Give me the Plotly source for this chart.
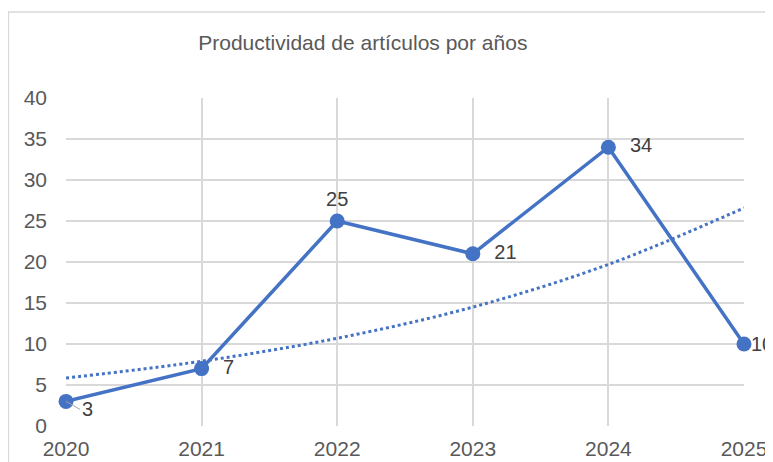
import plotly.graph_objects as go

years = [2020, 2021, 2022, 2023, 2024, 2025]
articulos = [3, 7, 25, 21, 34, 10]
# tendencia exponencial
tendencia = [5.85, 7.9, 10.7, 14.5, 19.7, 26.6]
y_ticks = [0, 5, 10, 15, 20, 25, 30, 35, 40]

blue = "#4472C4"
grid = "#D9D9D9"
txt = "#595959"
font_fam = "Liberation Sans, Arial, sans-serif"
lbl_font = dict(size=20, color="#404040", family=font_fam)

# etiquetas del medio en la traza; primera y última como anotaciones
label_pos = ["bottom right", "middle right", "top center",
             "middle right", "middle right", "middle right"]
labels = ["", "  7", "25", "  21", "  34", ""]

fig = go.Figure()

fig.add_trace(go.Scatter(
    x=years, y=tendencia, mode="lines",
    line=dict(color=blue, width=3, dash="dot", shape="spline"),
    hoverinfo="skip", showlegend=False,
))

fig.add_trace(go.Scatter(
    x=years, y=articulos, mode="lines+markers+text",
    text=labels,
    textposition=label_pos,
    textfont=lbl_font,
    line=dict(color=blue, width=3.5),
    marker=dict(color=blue, size=15),
    cliponaxis=False,
    showlegend=False,
))

# etiqueta "3" con línea guía
fig.add_annotation(
    x=years[0], y=articulos[0], text=str(articulos[0]),
    showarrow=True, arrowhead=0, arrowcolor="#A6A6A6", arrowwidth=1,
    ax=14, ay=8, xanchor="left", yanchor="middle",
    font=lbl_font,
)

# etiqueta "10" pegada al marcador (cortada en el borde como en Excel)
fig.add_annotation(
    x=years[-1], y=articulos[-1], text=str(articulos[-1]),
    showarrow=False, xanchor="left", yanchor="middle", xshift=5,
    font=lbl_font,
)

# borde del área del gráfico
fig.add_shape(
    type="rect", xref="paper", yref="paper",
    x0=-0.085, x1=1.2, y0=-0.3, y1=1.262,
    line=dict(color="#D9D9D9", width=1.5), layer="below",
)

fig.update_layout(
    width=773, height=462,
    margin=dict(l=58, r=37, t=90, b=44),
    paper_bgcolor="white", plot_bgcolor="white",
    font=dict(family=font_fam, color=txt),
    title=dict(
        text="Productividad de artículos por años",
        x=0.459, xanchor="center", y=0.924, yanchor="middle",
        font=dict(size=21, color=txt),
    ),
    xaxis=dict(
        range=[2020, 2025], tickvals=years, ticktext=[str(y) for y in years],
        showgrid=True, gridcolor=grid, gridwidth=1.5,
        showline=False, zeroline=False, ticks="", automargin=False,
        tickfont=dict(size=21, color=txt), ticklabelstandoff=8,
    ),
    yaxis=dict(
        range=[0, 40], tickvals=y_ticks,
        showgrid=True, gridcolor=grid, gridwidth=1.5,
        showline=False, zeroline=False, ticks="", automargin=False,
        tickfont=dict(size=21, color=txt), ticklabelstandoff=18,
    ),
)

fig.write_html("out.html")
